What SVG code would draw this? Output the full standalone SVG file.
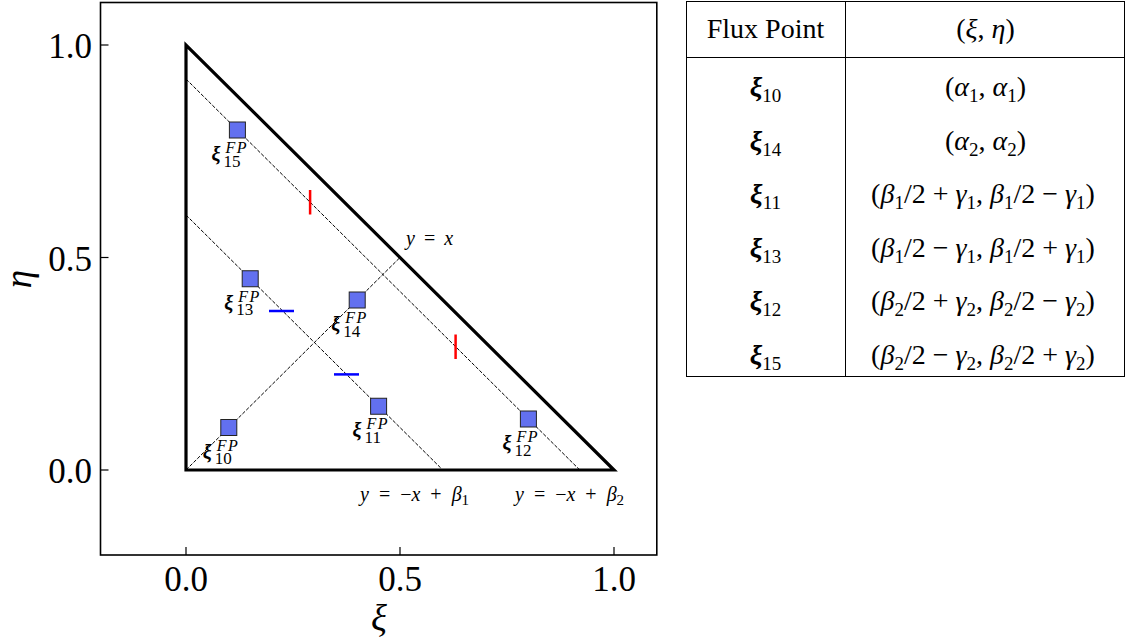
<svg xmlns="http://www.w3.org/2000/svg" width="1126" height="643" viewBox="0 0 1126 643">
<style>
text{font-family:"Liberation Serif","DejaVu Serif",serif;fill:#000}
.tick{font-size:35px}
.axl{font-size:37px;font-style:italic}
.bx{font-weight:bold;font-style:italic;font-size:20px}
.sup{font-style:italic;font-size:16px;letter-spacing:1.5px}
.sub{font-size:17px}
.eq{font-size:20px;font-style:italic}
.up{font-style:normal}
.tb{font-size:28px}
.tbx{font-weight:bold;font-style:italic}
.it{font-style:italic}
.ts{font-size:19px;font-style:normal}
.mk{fill:#6270ef;stroke:#222;stroke-width:1}
.dash{stroke:#000;stroke-width:1;stroke-dasharray:3.7 1.6;fill:none}
.tk{stroke:#000;stroke-width:1.2}
</style>
<rect width="1126" height="643" fill="#fff"/>
<g id="axes">
<rect x="100.5" y="2.5" width="556.3" height="552.5" fill="none" stroke="#000" stroke-width="1.6"/>
<line class="tk" x1="100.5" y1="470" x2="108.5" y2="470"/>
<line class="tk" x1="100.5" y1="257.5" x2="108.5" y2="257.5"/>
<line class="tk" x1="100.5" y1="45" x2="108.5" y2="45"/>
<line class="tk" x1="186" y1="555" x2="186" y2="547"/>
<line class="tk" x1="400" y1="555" x2="400" y2="547"/>
<line class="tk" x1="614" y1="555" x2="614" y2="547"/>
<text class="tick" x="92" y="58" text-anchor="end">1.0</text>
<text class="tick" x="92" y="270.5" text-anchor="end">0.5</text>
<text class="tick" x="92" y="483" text-anchor="end">0.0</text>
<text class="tick" x="186" y="591" text-anchor="middle">0.0</text>
<text class="tick" x="400" y="591" text-anchor="middle">0.5</text>
<text class="tick" x="614" y="591" text-anchor="middle">1.0</text>
<text class="axl" x="379" y="631" text-anchor="middle">ξ</text>
<text class="axl" transform="translate(31,279) rotate(-90)" text-anchor="middle">η</text>
</g>
<g id="connectors">
<line class="dash" x1="186" y1="470" x2="400" y2="257.5"/>
<line class="dash" x1="186" y1="215" x2="442.8" y2="470"/>
<line class="dash" x1="186" y1="79" x2="579.8" y2="470"/>
<path d="M186,470 L614,470 L186,45 Z" fill="none" stroke="#000" stroke-width="3.2" stroke-linejoin="miter"/>
<line x1="310.1" y1="190" x2="310.1" y2="214.5" stroke="#f00" stroke-width="2.5"/>
<line x1="455.6" y1="334.5" x2="455.6" y2="359" stroke="#f00" stroke-width="2.5"/>
<line x1="269" y1="311" x2="294" y2="311" stroke="#00f" stroke-width="2.5"/>
<line x1="334" y1="374.4" x2="359" y2="374.4" stroke="#00f" stroke-width="2.5"/>
</g>
<g id="eqlabels">
<text class="eq" x="406" y="245" style="word-spacing:4px">y <tspan class="up">=</tspan> x</text>
<text class="eq" x="360" y="501" style="word-spacing:5px">y <tspan class="up">=</tspan> <tspan class="up">−</tspan>x <tspan class="up">+</tspan> β<tspan class="up" font-size="15" dy="4">1</tspan></text>
<text class="eq" x="515" y="501" style="word-spacing:5px">y <tspan class="up">=</tspan> <tspan class="up">−</tspan>x <tspan class="up">+</tspan> β<tspan class="up" font-size="15" dy="4">2</tspan></text>
</g>
<g id="fp10">
<rect class="mk" x="220.8" y="419.5" width="16" height="16"/>
<text><tspan class="bx" x="202.8" y="458.5">ξ</tspan><tspan class="sup" x="216.8" y="450.5">FP</tspan><tspan class="sub" x="214.8" y="464">10</tspan></text>
</g>
<g id="fp11">
<rect class="mk" x="370.6" y="398.25" width="16" height="16"/>
<text><tspan class="bx" x="352.6" y="437.25">ξ</tspan><tspan class="sup" x="366.6" y="429.25">FP</tspan><tspan class="sub" x="364.6" y="442.75">11</tspan></text>
</g>
<g id="fp12">
<rect class="mk" x="520.4" y="411" width="16" height="16"/>
<text><tspan class="bx" x="502.4" y="450">ξ</tspan><tspan class="sup" x="516.4" y="442">FP</tspan><tspan class="sub" x="514.4" y="455.5">12</tspan></text>
</g>
<g id="fp13">
<rect class="mk" x="242.2" y="270.75" width="16" height="16"/>
<text><tspan class="bx" x="224.2" y="309.75">ξ</tspan><tspan class="sup" x="238.2" y="301.75">FP</tspan><tspan class="sub" x="236.2" y="315.25">13</tspan></text>
</g>
<g id="fp14">
<rect class="mk" x="349.2" y="292" width="16" height="16"/>
<text><tspan class="bx" x="331.2" y="331">ξ</tspan><tspan class="sup" x="345.2" y="323">FP</tspan><tspan class="sub" x="343.2" y="336.5">14</tspan></text>
</g>
<g id="fp15">
<rect class="mk" x="229.4" y="122" width="16" height="16"/>
<text><tspan class="bx" x="211.4" y="161">ξ</tspan><tspan class="sup" x="225.4" y="153">FP</tspan><tspan class="sub" x="223.4" y="166.5">15</tspan></text>
</g>
<g id="table">
<rect x="686.5" y="1.5" width="438" height="375" fill="none" stroke="#000" stroke-width="1"/>
<line x1="845.5" y1="1.5" x2="845.5" y2="376.5" stroke="#000" stroke-width="1"/>
<line x1="686.5" y1="57.5" x2="1124.5" y2="57.5" stroke="#000" stroke-width="1"/>
<text class="tb" x="765.5" y="38" text-anchor="middle">Flux Point</text>
<text class="tb" x="985.5" y="38" text-anchor="middle">(<tspan class="it">ξ</tspan>, <tspan class="it">η</tspan>)</text>
<text class="tb" x="765.5" y="96" text-anchor="middle"><tspan class="tbx">ξ</tspan><tspan class="ts" dy="6">10</tspan></text>
<text class="tb" x="765.5" y="149.5" text-anchor="middle"><tspan class="tbx">ξ</tspan><tspan class="ts" dy="6">14</tspan></text>
<text class="tb" x="765.5" y="203" text-anchor="middle"><tspan class="tbx">ξ</tspan><tspan class="ts" dy="6">11</tspan></text>
<text class="tb" x="765.5" y="256.5" text-anchor="middle"><tspan class="tbx">ξ</tspan><tspan class="ts" dy="6">13</tspan></text>
<text class="tb" x="765.5" y="310" text-anchor="middle"><tspan class="tbx">ξ</tspan><tspan class="ts" dy="6">12</tspan></text>
<text class="tb" x="765.5" y="363.5" text-anchor="middle"><tspan class="tbx">ξ</tspan><tspan class="ts" dy="6">15</tspan></text>
<text class="tb" x="985.5" y="96" text-anchor="middle">(<tspan class="it">α</tspan><tspan class="ts" dy="6">1</tspan><tspan dy="-6">, </tspan><tspan class="it">α</tspan><tspan class="ts" dy="6">1</tspan><tspan dy="-6">)</tspan></text>
<text class="tb" x="985.5" y="149.5" text-anchor="middle">(<tspan class="it">α</tspan><tspan class="ts" dy="6">2</tspan><tspan dy="-6">, </tspan><tspan class="it">α</tspan><tspan class="ts" dy="6">2</tspan><tspan dy="-6">)</tspan></text>
<text class="tb" x="983" y="203" text-anchor="middle">(<tspan class="it">β</tspan><tspan class="ts" dy="6">1</tspan><tspan dy="-6">/2 + </tspan><tspan class="it">γ</tspan><tspan class="ts" dy="6">1</tspan><tspan dy="-6">, </tspan><tspan class="it">β</tspan><tspan class="ts" dy="6">1</tspan><tspan dy="-6">/2 − </tspan><tspan class="it">γ</tspan><tspan class="ts" dy="6">1</tspan><tspan dy="-6">)</tspan></text>
<text class="tb" x="983" y="256.5" text-anchor="middle">(<tspan class="it">β</tspan><tspan class="ts" dy="6">1</tspan><tspan dy="-6">/2 − </tspan><tspan class="it">γ</tspan><tspan class="ts" dy="6">1</tspan><tspan dy="-6">, </tspan><tspan class="it">β</tspan><tspan class="ts" dy="6">1</tspan><tspan dy="-6">/2 + </tspan><tspan class="it">γ</tspan><tspan class="ts" dy="6">1</tspan><tspan dy="-6">)</tspan></text>
<text class="tb" x="983" y="310" text-anchor="middle">(<tspan class="it">β</tspan><tspan class="ts" dy="6">2</tspan><tspan dy="-6">/2 + </tspan><tspan class="it">γ</tspan><tspan class="ts" dy="6">2</tspan><tspan dy="-6">, </tspan><tspan class="it">β</tspan><tspan class="ts" dy="6">2</tspan><tspan dy="-6">/2 − </tspan><tspan class="it">γ</tspan><tspan class="ts" dy="6">2</tspan><tspan dy="-6">)</tspan></text>
<text class="tb" x="983" y="363.5" text-anchor="middle">(<tspan class="it">β</tspan><tspan class="ts" dy="6">2</tspan><tspan dy="-6">/2 − </tspan><tspan class="it">γ</tspan><tspan class="ts" dy="6">2</tspan><tspan dy="-6">, </tspan><tspan class="it">β</tspan><tspan class="ts" dy="6">2</tspan><tspan dy="-6">/2 + </tspan><tspan class="it">γ</tspan><tspan class="ts" dy="6">2</tspan><tspan dy="-6">)</tspan></text>
</g>
</svg>
